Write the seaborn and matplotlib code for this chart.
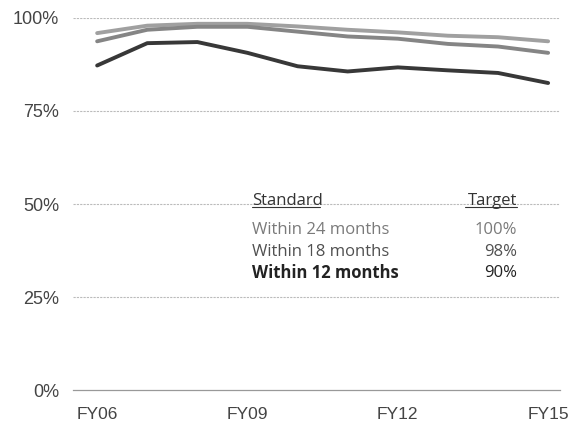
import numpy as np
import pandas as pd
import seaborn as sns
import matplotlib.pyplot as plt

years = ["FY06", "FY07", "FY08", "FY09", "FY10", "FY11", "FY12", "FY13", "FY14", "FY15"]
within_24 = [95.9, 97.9, 98.4, 98.4, 97.7, 96.8, 96.1, 95.2, 94.8, 93.7]
within_18 = [93.7, 96.8, 97.6, 97.6, 96.3, 95.0, 94.4, 93.0, 92.3, 90.6]
within_12 = [87.2, 93.2, 93.5, 90.6, 87.0, 85.6, 86.7, 85.9, 85.2, 82.5]
standards = ["Within 24 months", "Within 18 months", "Within 12 months"]
targets = ["100%", "98%", "90%"]

df = pd.DataFrame({
    "year": years * 3,
    "pct": within_24 + within_18 + within_12,
    "standard": [standards[0]] * 10 + [standards[1]] * 10 + [standards[2]] * 10,
})
df["x"] = df["year"].map({y: i for i, y in enumerate(years)})

sns.set_style("white")
plt.rcParams["font.family"] = ["Liberation Sans", "DejaVu Sans"]

fig = plt.figure(figsize=(5.71, 4.25), dpi=100)
ax = fig.add_axes([0.128, 0.082, 0.853, 0.876])

colors = {standards[0]: "#a0a0a0", standards[1]: "#858585", standards[2]: "#383838"}
sns.lineplot(data=df, x="x", y="pct", hue="standard", palette=colors,
             linewidth=2.8, legend=False, ax=ax)

ax.set_ylim(0, 100)
ax.set_xlim(-0.48, 9.24)
ax.set_yticks([0, 25, 50, 75, 100])
ax.set_yticklabels(["0%", "25%", "50%", "75%", "100%"], fontsize=13, color="#444444")
ax.set_xticks(range(10))
ax.set_xticklabels(["FY06", "", "", "FY09", "", "", "FY12", "", "", "FY15"],
                   fontsize=12.5, color="#444444")
ax.tick_params(axis="y", length=0, pad=10)
ax.tick_params(axis="x", length=3, direction="in", color="#999999", pad=12)
ax.set_xlabel("")
ax.set_ylabel("")
for yv in [25, 50, 75, 100]:
    ax.axhline(yv, color="#bbbbbb", linestyle=(0, (2, 1)), linewidth=0.8, zorder=0)
for s in ["top", "right", "left"]:
    ax.spines[s].set_visible(False)
ax.spines["bottom"].set_color("#999999")
ax.spines["bottom"].set_linewidth(0.9)

# legend table
tfont = ["Open Sans", "DejaVu Sans"]
fs = 12
ax.text(3.09, 50.9, "Standard", fontsize=fs, color="#333333", va="center", family=tfont)
ax.plot([3.09, 4.45], [49.1, 49.1], color="#333333", lw=0.8)
ax.text(8.38, 50.9, "Target", fontsize=fs, color="#333333", ha="right", va="center", family=tfont)
ax.plot([7.35, 8.38], [49.1, 49.1], color="#333333", lw=0.8)
row_colors = ["#7a7a7a", "#505050", "#222222"]
row_y = [43.0, 37.1, 31.4]
for i, (s, t) in enumerate(zip(standards, targets)):
    w = "bold" if i == 2 else "normal"
    ax.text(3.09, row_y[i], s, fontsize=fs, color=row_colors[i], weight=w, va="center", family=tfont)
    ax.text(8.38, row_y[i], t, fontsize=fs, color=row_colors[i], ha="right", va="center", family=tfont)

fig.savefig("out.png", dpi=100, facecolor="white")
